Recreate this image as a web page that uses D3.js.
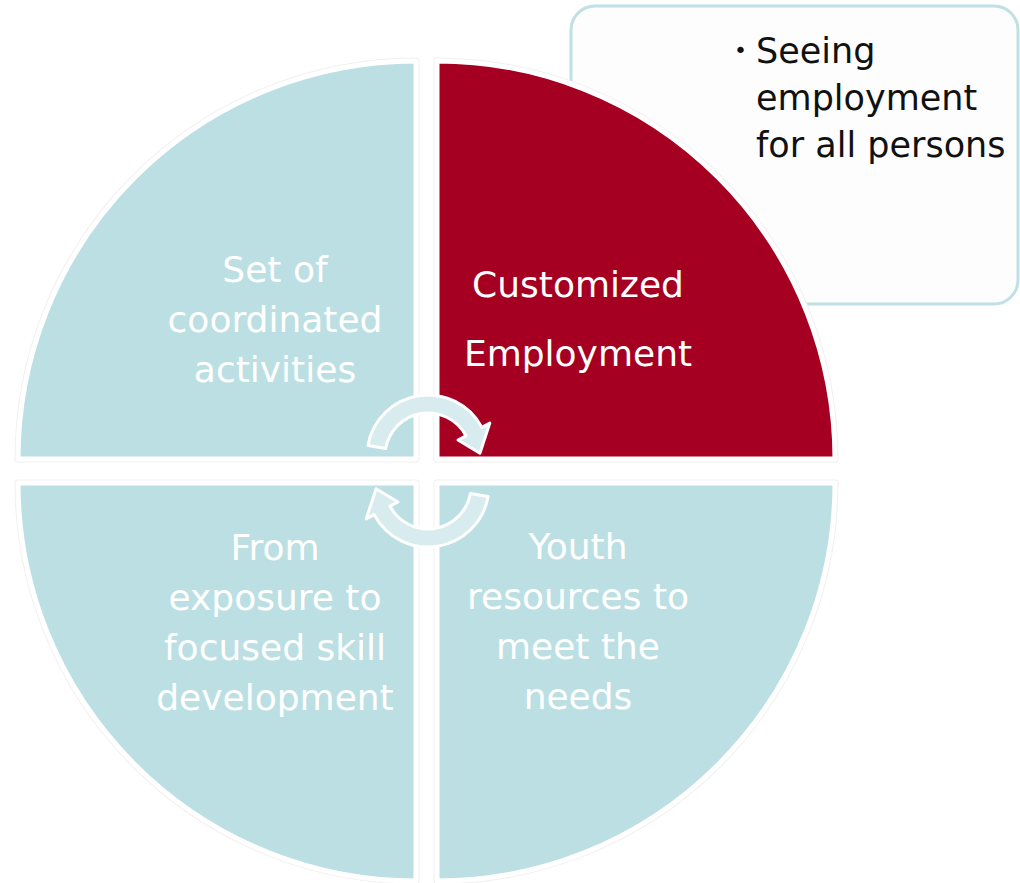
<!DOCTYPE html>
<html>
<head>
<meta charset="utf-8">
<script src="https://cdn.jsdelivr.net/npm/d3@7"></script>
<style>
  html, body { margin: 0; padding: 0; background: #fff; }
  svg { display: block; }
  text { font-family: "Comic Sans MS", "DejaVu Sans", sans-serif; }
</style>
</head>
<body>
<svg id="chart"></svg>
<script>
// quadrant content, clockwise from top-right
const quadrants = ["tr", "br", "bl", "tl"];
const quadrantLabels = [
  ["Customized", "Employment"],
  ["Youth", "resources to", "meet the", "needs"],
  ["From", "exposure to", "focused skill", "development"],
  ["Set of", "coordinated", "activities"],
];
const quadrantColors = ["#a50021", "#bbdfe3", "#bbdfe3", "#bbdfe3"];
const calloutLines = ["Seeing", "employment", "for all persons"];

const width = 1020;
const height = 883;
const R = 398;
// corner of each quarter disc (gap between the quarters)
const corners = {
  tr: [437, 459],
  br: [437, 483],
  bl: [416, 483],
  tl: [416, 459],
};
// label anchor: centre x, first baseline, line step
const labelPos = {
  tr: [578, 297, 69],
  br: [578, 559, 50],
  bl: [275, 560, 50],
  tl: [275, 282, 50],
};

const svg = d3.select("#chart").attr("width", width).attr("height", height);

// callout box behind the red quarter
const callout = svg.append("g");
callout
  .append("rect")
  .attr("x", 571)
  .attr("y", 6)
  .attr("width", 447)
  .attr("height", 298)
  .attr("rx", 24)
  .attr("fill", "#fdfdfd")
  .attr("stroke", "#bfe0e4")
  .attr("stroke-width", 3);
callout
  .append("text")
  .attr("x", 734)
  .attr("y", 58)
  .attr("font-size", 22)
  .attr("fill", "#111")
  .text("\u2022");
callout
  .selectAll("text.line")
  .data(calloutLines)
  .join("text")
  .attr("class", "line")
  .attr("x", 756)
  .attr("y", (d, i) => 63 + i * 47)
  .attr("font-size", 35)
  .attr("fill", "#111")
  .text((d) => d);

const arc = d3.arc().innerRadius(0).outerRadius(R);

const quad = svg
  .append("g")
  .selectAll("g")
  .data(quadrants)
  .join("g")
  .attr("transform", (d) => `translate(${corners[d][0]},${corners[d][1]})`);

const arcData = (i) => ({ startAngle: (i * Math.PI) / 2, endAngle: ((i + 1) * Math.PI) / 2 });

// faint grey rim then white border
quad
  .append("path")
  .attr("d", (d, i) => arc(arcData(i)))
  .attr("fill", "none")
  .attr("stroke", "#f0f0f0")
  .attr("stroke-width", 7)
  .attr("stroke-linejoin", "round");
quad
  .append("path")
  .attr("d", (d, i) => arc(arcData(i)))
  .attr("fill", (d, i) => quadrantColors[i])
  .attr("stroke", "#fff")
  .attr("stroke-width", 5)
  .attr("stroke-linejoin", "round");

// cycle arrows in the middle
function arrowPath(cx, cy, rm, hw, a0, a1, aTip, wing) {
  const pt = (r, a) => [cx + r * Math.cos(a), cy + r * Math.sin(a)];
  const p = d3.path();
  const s = pt(rm + hw, a0);
  p.moveTo(s[0], s[1]);
  p.arc(cx, cy, rm + hw, a0, a1, false);
  const w1 = pt(rm + hw + wing, a1);
  const tip = pt(rm, aTip);
  const w2 = pt(rm - hw - wing, a1);
  const ib = pt(rm - hw, a1);
  p.lineTo(w1[0], w1[1]);
  p.lineTo(tip[0], tip[1]);
  p.lineTo(w2[0], w2[1]);
  p.lineTo(ib[0], ib[1]);
  p.arc(cx, cy, rm - hw, a1, a0, true);
  p.closePath();
  return p.toString();
}
const deg = Math.PI / 180;
const arrowD = arrowPath(428, 456, 52, 9, 190 * deg, 332 * deg, 357 * deg, 9);
const arrows = svg.append("g");
[0, 180].forEach((rot) => {
  arrows
    .append("path")
    .attr("d", arrowD)
    .attr("transform", `rotate(${rot},428,471)`)
    .attr("fill", "#d8ecef")
    .attr("stroke", "#fff")
    .attr("stroke-width", 3)
    .attr("stroke-linejoin", "round");
});

// quarter labels
svg
  .append("g")
  .selectAll("text")
  .data(quadrants)
  .join("text")
  .attr("text-anchor", "middle")
  .attr("font-size", 36)
  .attr("fill", "#fff")
  .each(function (d, i) {
    const [x, y0, step] = labelPos[d];
    d3.select(this)
      .selectAll("tspan")
      .data(quadrantLabels[i])
      .join("tspan")
      .attr("x", x)
      .attr("y", (t, j) => y0 + j * step)
      .text((t) => t);
  });
</script>
</body>
</html>
